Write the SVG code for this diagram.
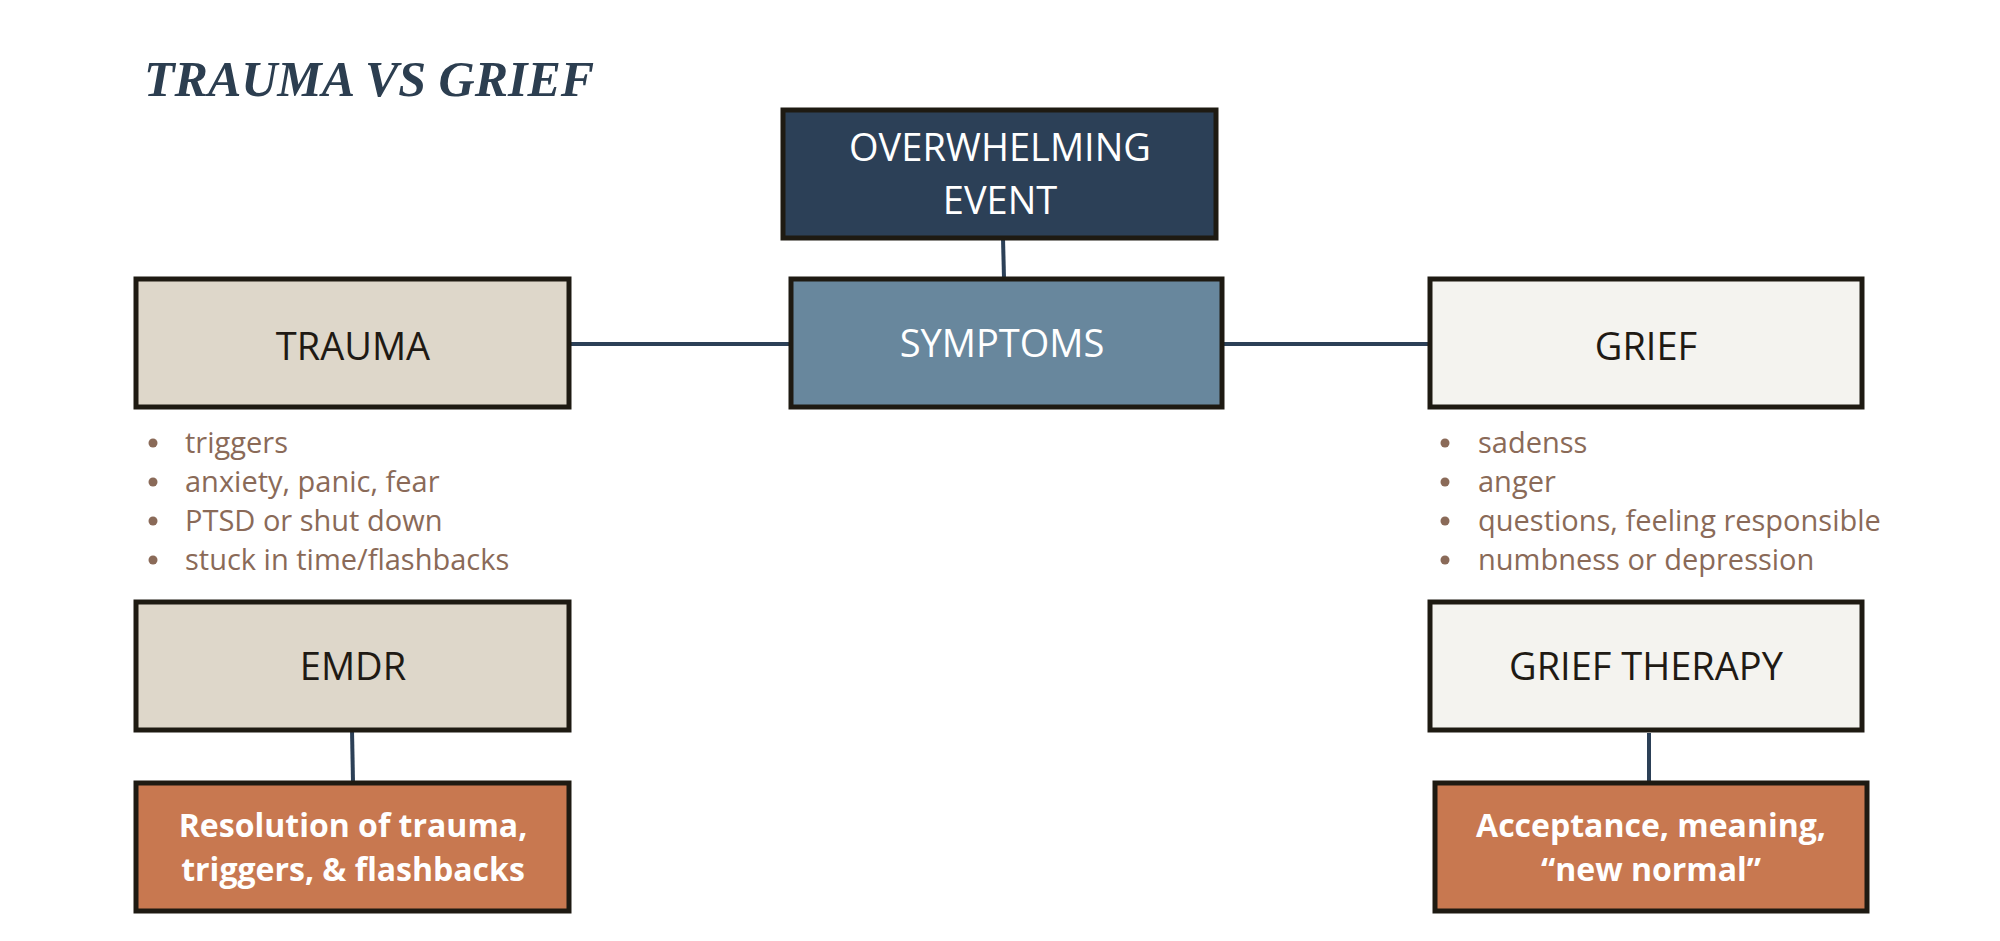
<svg xmlns="http://www.w3.org/2000/svg" width="2000" height="941" viewBox="0 0 2000 941">
<style>
.box{stroke:#1e1a12;stroke-width:5}
.lbl{font-family:"Open Sans","Noto Sans",sans-serif;font-size:38px;text-anchor:middle;fill:#1f1a14}
.wl{fill:#ffffff}
.res{font-family:"Open Sans","Noto Sans",sans-serif;font-size:32px;font-weight:bold;text-anchor:middle;fill:#ffffff}
.bul{font-family:"Open Sans","Noto Sans",sans-serif;font-size:29px;fill:#8a6a58}
.con{stroke:#2c4057;stroke-width:4;fill:none}
</style>
<rect width="2000" height="941" fill="#ffffff"/>
<text x="144" y="96" font-family="Liberation Serif,serif" font-size="50" font-weight="bold" font-style="italic" fill="#2c3e50">TRAUMA VS GRIEF</text>
<g id="connectors">
<line class="con" x1="1003" y1="238" x2="1004" y2="278"/>
<line class="con" x1="569" y1="344" x2="791" y2="344"/>
<line class="con" x1="1222" y1="344" x2="1430" y2="344"/>
<line class="con" x1="352" y1="730" x2="353" y2="782"/>
<line class="con" x1="1649" y1="733" x2="1649" y2="782"/>
</g>
<g id="event"><rect class="box" x="783" y="110" width="433" height="128" fill="#2c4057"/>
<text class="lbl wl" x="1000" y="161">OVERWHELMING</text><text class="lbl wl" x="1000" y="214">EVENT</text></g>
<g id="symptoms"><rect class="box" x="791" y="279" width="431" height="128" fill="#68879d"/>
<text class="lbl wl" x="1002" y="357">SYMPTOMS</text></g>
<g id="trauma"><rect class="box" x="136" y="279" width="433" height="128" fill="#ded7ca"/>
<text class="lbl" x="353" y="360">TRAUMA</text></g>
<g id="grief"><rect class="box" x="1430" y="279" width="432" height="128" fill="#f4f3ef"/>
<text class="lbl" x="1646" y="360">GRIEF</text></g>
<g id="trauma-list">
<circle cx="153" cy="443" r="4.5" fill="#8a6a58"/><text class="bul" x="185" y="453">triggers</text>
<circle cx="153" cy="482" r="4.5" fill="#8a6a58"/><text class="bul" x="185" y="492">anxiety, panic, fear</text>
<circle cx="153" cy="521" r="4.5" fill="#8a6a58"/><text class="bul" x="185" y="531">PTSD or shut down</text>
<circle cx="153" cy="560" r="4.5" fill="#8a6a58"/><text class="bul" x="185" y="570">stuck in time/flashbacks</text>
</g>
<g id="grief-list">
<circle cx="1445" cy="443" r="4.5" fill="#8a6a58"/><text class="bul" x="1478" y="453">sadenss</text>
<circle cx="1445" cy="482" r="4.5" fill="#8a6a58"/><text class="bul" x="1478" y="492">anger</text>
<circle cx="1445" cy="521" r="4.5" fill="#8a6a58"/><text class="bul" x="1478" y="531">questions, feeling responsible</text>
<circle cx="1445" cy="560" r="4.5" fill="#8a6a58"/><text class="bul" x="1478" y="570">numbness or depression</text>
</g>
<g id="emdr"><rect class="box" x="136" y="602" width="433" height="128" fill="#ded7ca"/>
<text class="lbl" x="353" y="680">EMDR</text></g>
<g id="grieftherapy"><rect class="box" x="1430" y="602" width="432" height="128" fill="#f4f3ef"/>
<text class="lbl" x="1646" y="680">GRIEF THERAPY</text></g>
<g id="resolution"><rect class="box" x="136" y="783" width="433" height="128" fill="#c87850"/>
<text class="res" x="353" y="837">Resolution of trauma,</text><text class="res" x="353" y="881">triggers, &amp; flashbacks</text></g>
<g id="acceptance"><rect class="box" x="1435" y="783" width="432" height="128" fill="#c87850"/>
<text class="res" x="1651" y="837">Acceptance, meaning,</text><text class="res" x="1651" y="881">“new normal”</text></g>
</svg>
